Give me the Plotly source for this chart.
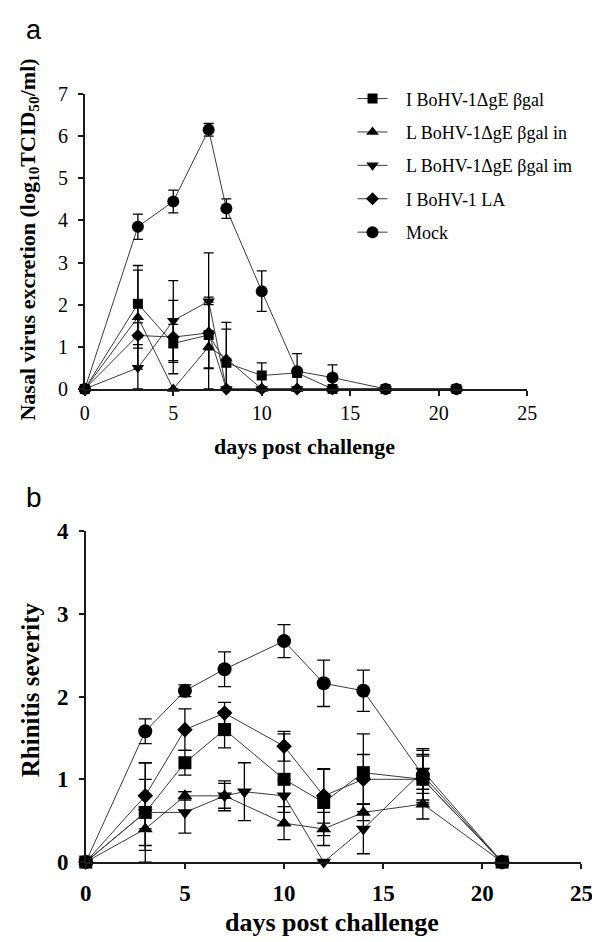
import plotly.graph_objects as go

# ---------------- data ----------------
series_names = ["I BoHV-1ΔgE βgal", "L BoHV-1ΔgE βgal in", "L BoHV-1ΔgE βgal im",
                "I BoHV-1 LA", "Mock"]
symbols = ["square", "triangle-up", "triangle-down", "diamond", "circle"]

# Panel a: nasal virus excretion
days_a = [0, 3, 5, 7, 8, 10, 12, 14, 17, 21]
a_sq = [0, 2.02, 1.08, 1.28, 0.62, 0.32, 0.38, 0, 0, 0]
a_sq_err = [0, 0.80, 0.45, 0.78, 0.80, 0.30, 0, 0, 0, 0]
a_tri = [0, 1.70, 0, 1.00, 0.72, 0, 0, 0, 0, 0]
a_tri_err = [0, 1.23, 0, 1.00, 0.86, 0, 0, 0, 0, 0]
a_inv = [0, 0.50, 1.62, 2.08, 0, 0, 0, 0, 0, 0]
a_inv_err = [0, 0.55, 0.95, 1.15, 0, 0, 0, 0, 0, 0]
a_dia = [0, 1.27, 1.23, 1.33, 0, 0, 0, 0, 0, 0]
a_dia_err = [0, 0.30, 0.87, 0.85, 0, 0, 0, 0, 0, 0]
a_mock = [0, 3.85, 4.45, 6.15, 4.28, 2.32, 0.42, 0.27, 0, 0]
a_mock_err = [0, 0.30, 0.27, 0.15, 0.23, 0.48, 0.42, 0.30, 0, 0]

# Panel b: rhinitis severity
days_b = [0, 3, 5, 7, 10, 12, 14, 17, 21]
days_b_inv = [0, 3, 5, 7, 8, 10, 12, 14, 17, 21]
b_sq = [0, 0.60, 1.20, 1.60, 1.00, 0.72, 1.08, 1.00, 0]
b_sq_err = [0, 0.40, 0.15, 0.22, 0.55, 0.40, 0.47, 0.28, 0]
b_tri = [0, 0.40, 0.80, 0.80, 0.47, 0.40, 0.60, 0.70, 0]
b_tri_err = [0, 0.26, 0.05, 0.15, 0.20, 0.20, 0.10, 0.18, 0]
b_inv = [0, 0.60, 0.60, 0.80, 0.85, 0.80, 0, 0.40, 1.10, 0]
b_inv_err = [0, 0.60, 0.25, 0.18, 0.35, 0.20, 0, 0.30, 0.27, 0]
b_dia = [0, 0.80, 1.60, 1.80, 1.40, 0.80, 1.00, 1.00, 0]
b_dia_err = [0, 0.40, 0.25, 0.13, 0.18, 0.33, 0.30, 0.30, 0]
b_mock = [0, 1.58, 2.07, 2.33, 2.67, 2.16, 2.07, 1.05, 0]
b_mock_err = [0, 0.15, 0.07, 0.21, 0.20, 0.28, 0.25, 0.30, 0]

x_ticks = [0, 5, 10, 15, 20, 25]
ya_ticks = [0, 1, 2, 3, 4, 5, 6, 7]
yb_ticks = [0, 1, 2, 3, 4]

panel_a = [(days_a, a_sq, a_sq_err), (days_a, a_tri, a_tri_err), (days_a, a_inv, a_inv_err),
           (days_a, a_dia, a_dia_err), (days_a, a_mock, a_mock_err)]
panel_b = [(days_b, b_sq, b_sq_err), (days_b, b_tri, b_tri_err), (days_b_inv, b_inv, b_inv_err),
           (days_b, b_dia, b_dia_err), (days_b, b_mock, b_mock_err)]

sizes_a = [10, 11, 11, 10, 12]
sizes_b = [13, 13, 13, 12, 14]

W, H = 600, 942
SERIF = "Liberation Serif, Times New Roman, serif"
SANS = "Liberation Sans, Arial, sans-serif"
GAP = "\u00a0\u00a0\u00a0"

fig = go.Figure()

def add_panel(data, sizes, xa, ya, cap, showleg):
    for i, (xs, ys, es) in enumerate(data):
        minus = [min(e, y) for e, y in zip(es, ys)]
        fig.add_trace(go.Scatter(
            x=xs, y=ys, mode="lines+markers", name=GAP + series_names[i],
            legendgroup=f"g{i}", showlegend=showleg,
            xaxis=xa, yaxis=ya, cliponaxis=False,
            line=dict(color="#3a3a3a", width=1),
            marker=dict(symbol=symbols[i], size=sizes[i], color="black",
                        line=dict(width=0)),
            error_y=dict(type="data", symmetric=False, array=es, arrayminus=minus,
                         color="black", thickness=1.3, width=cap),
        ))

add_panel(panel_a, sizes_a, "x", "y", 5, True)
add_panel(panel_b, sizes_b, "x2", "y2", 6.5, False)

def px_x(p):
    return p / W

def px_y(p):
    return 1 - p / H

axis_common = dict(showline=True, linecolor="#1a1a1a", linewidth=1.5, ticks="outside",
                   ticklen=5, tickwidth=1.5, tickcolor="#1a1a1a", showgrid=False,
                   zeroline=False, mirror=False)

fig.update_layout(
    width=W, height=H, margin=dict(l=0, r=0, t=0, b=0),
    paper_bgcolor="white", plot_bgcolor="white",
    showlegend=True,
    xaxis=dict(domain=[px_x(73), px_x(529)], range=[0, 25], tickvals=x_ticks,
               anchor="y", tickfont=dict(family=SERIF, size=20, color="black"),
               ticklabelstandoff=0, **axis_common),
    yaxis=dict(domain=[px_y(379), px_y(76)], range=[0, 7], tickvals=ya_ticks,
               anchor="x", tickfont=dict(family=SERIF, size=20, color="black"),
               ticklabelstandoff=6, **axis_common),
    xaxis2=dict(domain=[px_x(74), px_x(585)], range=[0, 25], tickvals=x_ticks,
                anchor="y2", tickfont=dict(family=SERIF, size=23, color="black", weight="bold"),
                ticklabelstandoff=5, **axis_common),
    yaxis2=dict(domain=[px_y(865), px_y(525)], range=[0, 4], tickvals=yb_ticks,
                anchor="x2", tickfont=dict(family=SERIF, size=23, color="black", weight="bold"),
                ticklabelstandoff=6, **axis_common),
    legend=dict(x=px_x(349), y=px_y(62), xanchor="left", yanchor="top",
                font=dict(family=SERIF, size=18, color="black"),
                tracegroupgap=7, bgcolor="rgba(0,0,0,0)", itemwidth=30),
)

annotations = [
    dict(text="a", x=px_x(21), y=px_y(10), borderpad=0,
         font=dict(family=SANS, size=27, color="black")),
    dict(text="b", x=px_x(21), y=px_y(491), font=dict(family=SANS, size=28, color="black")),
    dict(text="<b>Nasal virus excretion (log<sub>10</sub>TCID<sub>50</sub>/ml)</b>",
         x=px_x(15), y=px_y(226), textangle=-90, font=dict(family=SERIF, size=22, color="black")),
    dict(text="<b>days post challenge</b>", x=px_x(299), y=px_y(438),
         font=dict(family=SERIF, size=22, color="black")),
    dict(text="<b>Rhinitis severity</b>", x=px_x(17), y=px_y(688), textangle=-90,
         font=dict(family=SERIF, size=25, color="black")),
    dict(text="<b>days post challenge</b>", x=px_x(328), y=px_y(927),
         font=dict(family=SERIF, size=26, color="black")),
]
for a in annotations:
    a.update(xref="paper", yref="paper", showarrow=False, xanchor="center")
    a.setdefault("yanchor", "middle")
fig.update_layout(annotations=annotations)

fig.write_html("out.html")
